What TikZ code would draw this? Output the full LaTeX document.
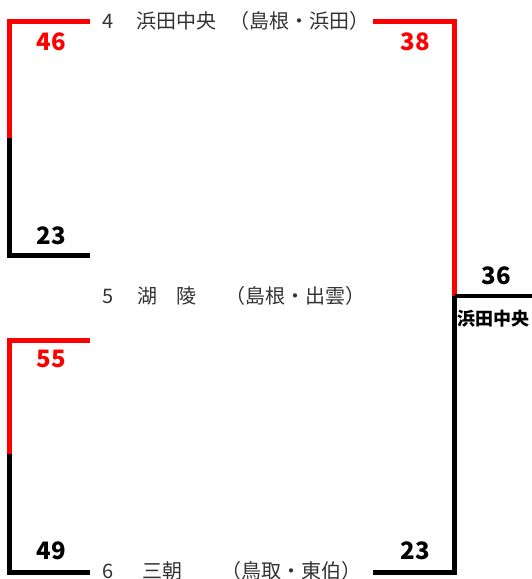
\documentclass[tikz,border=0pt]{standalone}
\usepackage{fontspec}
\setmainfont{Noto Sans CJK JP}

\tikzset{
  win/.style={red, line width=4.6pt},
  lose/.style={black, line width=4.6pt},
  score/.style={font=\fontsize{24}{24}\selectfont\bfseries, inner sep=0pt},
  team/.style={font=\fontsize{20}{20}\selectfont, text=black!80, anchor=west, inner sep=0pt},
  winner/.style={font=\fontsize{18}{18}\selectfont\bfseries, inner sep=0pt}
}

\begin{document}
\begin{tikzpicture}[x=1pt, y=-1pt]
      \useasboundingbox (0,0) rectangle (532,579);
      % bracket lines
      \draw[win, line join=miter] (90,21.5) -- (9.5,21.5) -- (9.5,138);
      \draw[lose, line join=miter] (9.5,138) -- (9.5,255.5) -- (90,255.5);
      \draw[win, line join=miter] (90,340.5) -- (9.5,340.5) -- (9.5,454);
      \draw[lose, line join=miter] (9.5,454) -- (9.5,572.5) -- (90,572.5);
      \draw[win, line join=miter] (373,21.5) -- (454.5,21.5) -- (454.5,296);
      \draw[lose, line join=miter] (454.5,296) -- (454.5,572.5) -- (373,572.5);
      \draw[lose] (454.5,296) -- (532,296);
      % teams
      \node[team] (t4) at (102,20.5) {4\hspace{23pt}浜田中央\hspace{13pt}（島根・浜田）};
      \node[team] (t5) at (102,295.5) {5\hspace{24pt}湖\hspace{19pt}陵\hspace{29pt}（島根・出雲）};
      \node[team] (t6) at (102,570.5) {6\hspace{29pt}三朝\hspace{39pt}（鳥取・東伯）};
      % scores
      \node[score, red] (s46) at (51,42) {46};
      \node[score] (s23a) at (51,236) {23};
      \node[score, red] (s55) at (51,359) {55};
      \node[score] (s49) at (51,551) {49};
      \node[score, red] (s38) at (415,42) {38};
      \node[score] (s23b) at (415,551) {23};
      \node[score] (s36) at (496,276) {36};
      \node[winner] (champ) at (493.5,319) {浜田中央};
\end{tikzpicture}
\end{document}
